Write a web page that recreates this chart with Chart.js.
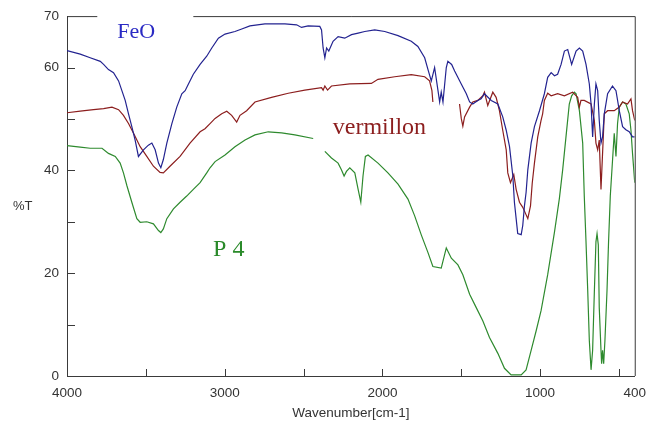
<!DOCTYPE html>
<html>
<head>
<meta charset="utf-8">
<script src="https://cdn.jsdelivr.net/npm/chart.js@4/dist/chart.umd.min.js"></script>
<style>
  html, body { margin: 0; padding: 0; background: #fff; }
  #wrap { width: 655px; height: 424px; }
</style>
</head>
<body>
<div id="wrap"><canvas id="ir" width="655" height="424"></canvas></div>
<script>
/* ===== IR spectra: FeO / vermillon / P 4 ===== */

// FeO (blue)
const WN_FEO = [4000,3916,3853,3789,3768,3737,3705,3673,3652,3631,
  3610,3589,3568,3547,3515,3484,3462,3441,3420,3405,
  3389,3367,3335,3304,3272,3251,3230,3199,3156,3114,
  3082,3040,2998,2935,2892,2840,2745,2618,2544,2513,
  2471,2397,2386,2376,2365,2354,2340,2313,2281,2239,
  2196,2154,2112,2049,1985,1901,1817,1775,1732,1710,
  1690,1669,1637,1627,1616,1595,1585,1561,1542,1500,
  1468,1447,1427,1395,1374,1353,1310,1268,1237,1215,
  1194,1173,1163,1152,1142,1120,1110,1099,1089,1078,
  1057,1036,1004,973,952,930,909,889,867,846,
  825,800,772,751,730,709,688,677,667,656,
  646,635,625,614,604,593,572,541,519,498,
  477,456,435,414,400];
const T_FEO = [63.3,62.6,61.9,61.2,60.6,59.6,59.0,57.4,55.5,53.6,
  51.0,48.5,45.9,42.7,44.0,44.9,45.3,44.0,41.4,40.5,
  42.1,45.3,49.1,52.3,54.9,55.5,56.8,58.7,60.6,62.2,
  63.8,65.7,66.5,67.0,67.5,68.1,68.5,68.5,68.3,67.8,
  68.1,68.0,67.3,63.8,61.9,63.8,63.2,65.1,66.0,65.7,
  66.4,66.7,67.0,67.3,67.0,66.2,65.1,64.1,61.9,59.5,
  57.4,60.0,53.3,55.2,53.3,60.0,61.2,60.6,59.3,56.8,
  54.9,53.3,52.9,53.6,53.9,54.9,53.6,52.9,50.4,47.8,
  44.6,38.9,33.8,30.6,27.7,27.5,29.3,33.2,35.7,40.1,
  45.3,48.5,51.6,54.9,58.1,59.0,58.4,58.7,60.6,63.2,
  63.5,60.6,63.2,63.8,63.2,60.6,56.8,52.9,46.5,52.9,
  56.8,55.5,49.7,45.3,46.5,51.0,54.9,56.4,55.5,51.6,
  48.5,47.9,47.5,46.5,46.5];

// vermillon (dark red), null = break in the trace
const WN_VERM = [4000,3916,3832,3768,3715,3673,3642,3610,3578,3536,
  3494,3452,3410,3389,3347,3283,3220,3156,3125,3093,
  3061,3019,2987,2956,2924,2903,2861,2808,2703,2597,
  2492,2386,2376,2365,2348,2323,2207,2070,2028,1922,
  1817,1732,1701,1686,1680,1600,1511,1500,1490,1479,
  1447,1427,1395,1363,1353,1332,1300,1279,1258,1237,
  1215,1205,1188,1167,1152,1131,1110,1078,1061,1050,
  1036,1015,994,984,973,952,930,889,846,794,
  762,751,741,720,677,656,646,635,625,614,
  604,593,572,530,498,477,446,424,414,400];
const T_VERM = [51.2,51.5,51.8,52.0,52.3,51.8,50.7,49.1,47.2,44.6,
  42.7,40.8,39.6,39.5,40.8,42.7,45.3,47.5,48.1,49.1,
  50.1,51.0,51.5,50.7,49.4,50.7,51.6,53.3,54.2,55.0,
  55.6,56.1,55.6,56.4,55.6,56.4,56.8,56.9,57.7,58.2,
  58.6,58.2,57.4,55.5,53.3,null,52.9,50.1,48.6,50.4,
  52.3,53.3,53.6,54.5,55.2,52.6,55.2,54.2,51.6,47.8,
  44.0,39.5,37.6,39.2,36.3,33.8,32.8,30.6,33.1,37.5,
  41.4,46.5,49.7,51.0,53.6,55.0,54.5,54.9,54.5,55.2,
  54.2,52.3,53.6,53.6,52.9,49.7,45.3,44.0,45.9,36.3,
  43.3,51.0,51.6,51.6,52.3,53.3,52.9,53.9,51.6,49.7];

// P 4 (green)
const WN_P4 = [4000,3916,3853,3778,3737,3694,3663,3642,3620,3589,
  3557,3536,3494,3452,3420,3405,3389,3367,3325,3283,
  3241,3199,3156,3114,3093,3061,2998,2935,2871,2808,
  2724,2639,2555,2439,2400,2365,2323,2281,2260,2243,
  2228,2207,2175,2154,2137,2123,2108,2091,2028,1965,
  1901,1838,1796,1753,1711,1680,1627,1595,1563,1521,
  1490,1447,1405,1363,1321,1268,1226,1184,1120,1089,
  1057,1025,994,952,909,878,857,836,815,800,
  783,772,751,730,720,709,698,688,677,667,
  656,646,639,631,625,614,610,604,597,589,
  576,566,555,530,519,509,498,477,456,435,
  424,414,400];
const T_P4 = [44.8,44.5,44.3,44.3,43.3,42.7,41.4,39.5,37.0,33.8,
  30.6,29.9,30.0,29.6,28.3,27.9,28.6,30.6,32.5,33.8,
  35.0,36.3,37.6,39.5,40.5,41.7,43.0,44.6,45.9,46.9,
  47.5,47.3,46.9,46.2,null,43.7,42.4,41.4,40.1,38.9,
  39.8,40.5,39.5,36.3,33.8,38.9,42.7,43.0,41.4,39.5,
  37.3,34.4,31.2,27.4,24.0,21.3,21.0,24.9,22.9,21.6,
  19.7,15.9,13.3,10.7,7.5,4.4,1.5,0.2,0.2,1.2,
  5.0,8.8,12.7,19.7,28.0,34.5,40.1,46.5,52.9,54.5,
  55.2,54.9,51.6,45.3,35.0,26.1,16.5,6.9,1.2,5.0,
  16.5,26.1,27.7,25.5,13.3,5.0,2.4,5.0,2.4,6.9,
  16.5,26.1,35.0,47.2,42.7,49.1,52.3,53.3,52.9,51.0,
  47.8,43.3,37.6];

const X_TICKS = [4000, 3500, 3000, 2500, 2000, 1500, 1000, 500, 400];
const X_LABELED = [4000, 3000, 2000, 1000, 400];
const Y_TICKS = [0, 10, 20, 30, 40, 50, 60, 70];
const Y_LABELED = [0, 20, 40, 60, 70];

const COLORS = { feo: '#232390', verm: '#8c1e1e', p4: '#2e8a2e', axis: '#3a3a3a' };

// in-plot labels: [text, wavenumber, %T (baseline), colour, font size]
const LABELS = [
  ['FeO', 3682, 65.8, '#2a2ac4', 22],
  ['vermillon', 2315, 47.0, '#8c1e1e', 24],
  ['P 4', 3074, 23.4, '#2a8a2a', 24],
];

function toPoints(xs, ys) {
  return xs.map((x, i) => ({ x, y: ys[i] }));
}

function series(label, xs, ys, color) {
  return {
    label,
    data: toPoints(xs, ys),
    borderColor: color,
    borderWidth: 1.2,
    pointRadius: 0,
    tension: 0,
    spanGaps: false,
    fill: false,
  };
}

const frame = {
  id: 'frame',
  afterDraw(chart) {
    const { ctx, chartArea: ca, scales: { x, y } } = chart;
    ctx.save();
    ctx.strokeStyle = COLORS.axis;
    ctx.lineWidth = 1;
    ctx.beginPath();
    ctx.moveTo(ca.left, ca.top + 0.5);
    ctx.lineTo(ca.right + 0.5, ca.top + 0.5);
    ctx.lineTo(ca.right + 0.5, ca.bottom);
    // inward ticks
    Y_TICKS.filter(v => v > 0 && v < 70).forEach(v => {
      const py = Math.round(y.getPixelForValue(v)) + 0.5;
      ctx.moveTo(ca.left, py);
      ctx.lineTo(ca.left + 8, py);
    });
    X_TICKS.filter(v => v < 4000 && v > 400).forEach(v => {
      const px = Math.round(x.getPixelForValue(v)) + 0.5;
      ctx.moveTo(px, ca.bottom);
      ctx.lineTo(px, ca.bottom - 7);
    });
    ctx.stroke();

    // white box behind FeO breaks the top border
    ctx.fillStyle = '#fff';
    const bx0 = x.getPixelForValue(3808), bx1 = x.getPixelForValue(3199);
    ctx.fillRect(bx0, ca.top - 4, bx1 - bx0, 8);

    ctx.textBaseline = 'alphabetic';
    ctx.textAlign = 'left';
    LABELS.forEach(([txt, wn, t, col, size]) => {
      ctx.fillStyle = col;
      ctx.font = size + 'px "Liberation Serif", "Times New Roman", serif';
      ctx.fillText(txt, x.getPixelForValue(wn), y.getPixelForValue(t));
    });

    // horizontal y title
    ctx.fillStyle = '#333';
    ctx.font = '13px "Liberation Sans", Arial, sans-serif';
    ctx.textBaseline = 'middle';
    ctx.fillText('%T', 13, y.getPixelForValue(33));
    ctx.restore();
  },
};

new Chart(document.getElementById('ir'), {
  type: 'line',
  data: {
    datasets: [
      series('FeO', WN_FEO, T_FEO, COLORS.feo),
      series('vermillon', WN_VERM, T_VERM, COLORS.verm),
      series('P 4', WN_P4, T_P4, COLORS.p4),
    ],
  },
  options: {
    responsive: false,
    animation: false,
    events: [],
    layout: { padding: { top: 11, right: 20, left: 0, bottom: 0 } },
    plugins: { legend: { display: false }, tooltip: { enabled: false } },
    scales: {
      x: {
        type: 'linear',
        reverse: true,
        min: 400,
        max: 4000,
        afterBuildTicks: s => { s.ticks = X_TICKS.map(v => ({ value: v })); },
        afterFit: s => { s.height = 48; },
        grid: { drawOnChartArea: false, drawTicks: false },
        border: { display: true, color: COLORS.axis, width: 1 },
        ticks: {
          autoSkip: false,
          maxRotation: 0,
          padding: 9,
          color: '#333',
          font: { family: '"Liberation Sans", Arial, sans-serif', size: 13.5 },
          callback: v => X_LABELED.includes(v) ? String(v) : '',
        },
        title: {
          display: true,
          text: 'Wavenumber[cm-1]',
          color: '#333',
          font: { family: '"Liberation Sans", Arial, sans-serif', size: 13.5 },
          padding: { top: 0, bottom: 3 },
        },
      },
      y: {
        min: 0,
        max: 70,
        afterBuildTicks: s => { s.ticks = Y_TICKS.map(v => ({ value: v })); },
        afterFit: s => { s.width = 67; },
        grid: { drawOnChartArea: false, drawTicks: false },
        border: { display: true, color: COLORS.axis, width: 1 },
        ticks: {
          padding: 8,
          color: '#333',
          font: { family: '"Liberation Sans", Arial, sans-serif', size: 13.5 },
          callback: v => Y_LABELED.includes(v) ? String(v) : '',
        },
      },
    },
  },
  plugins: [frame],
});
</script>
</body>
</html>
